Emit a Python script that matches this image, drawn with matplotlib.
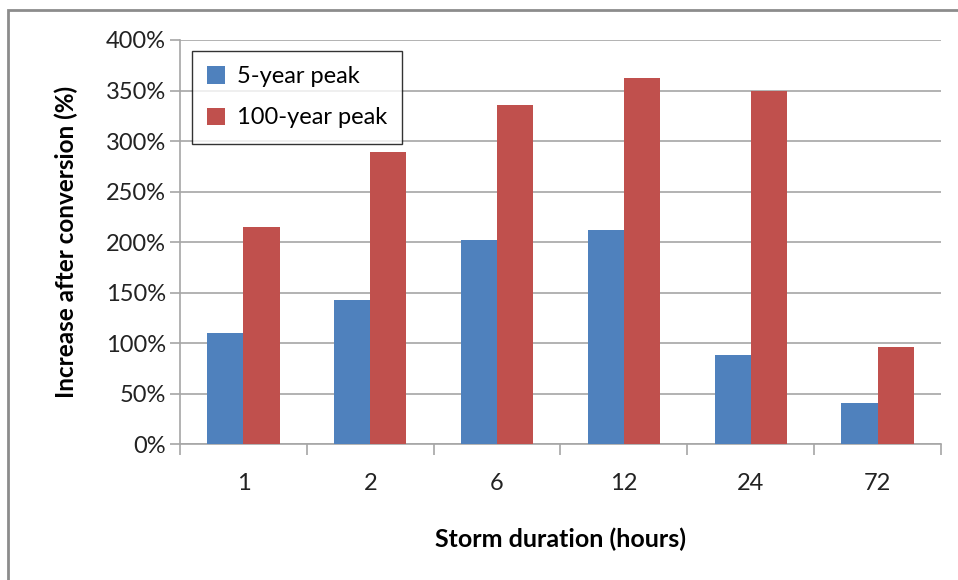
import numpy as np
import matplotlib
matplotlib.use("Agg")
import matplotlib.pyplot as plt
from matplotlib.patches import Rectangle
from matplotlib.ticker import FuncFormatter, MultipleLocator

plt.rcParams["font.family"] = ["Lato", "DejaVu Sans"]

durations  = ["1", "2", "6", "12", "24", "72"]
peak_5yr   = [110, 142.5, 202, 212, 88, 41]
peak_100yr = [214.5, 289.5, 335.5, 362, 350, 96.5]

BLUE = "#4F81BD"
RED  = "#C0504D"
GRID = "#A6A6A6"

fig = plt.figure(figsize=(9.58, 5.8), dpi=100)
ax = fig.add_axes([180 / 958, 1 - 444.3 / 580, 761 / 958, 404.3 / 580])

x = np.arange(len(durations))
w = 1 / 3.5
ax.bar(x - w / 2, peak_5yr, w, color=BLUE, label="5-year peak", zorder=3)
ax.bar(x + w / 2, peak_100yr, w, color=RED, label="100-year peak", zorder=3)

ax.set_xlim(-0.5, len(durations) - 0.5)
ax.set_ylim(0, 400)
ax.yaxis.set_major_locator(MultipleLocator(50))
ax.yaxis.set_major_formatter(FuncFormatter(lambda v, _: f"{v:.0f}%"))
ax.grid(axis="y", color=GRID, linewidth=1.2, zorder=0)

ax.set_xticks(x)
ax.set_xticklabels(durations)
ax.set_xticks(np.arange(-0.5, len(durations)), minor=True)
ax.tick_params(axis="x", which="major", length=0, pad=21, labelsize=17, colors="#222222")
ax.tick_params(axis="x", which="minor", length=8, width=1.2, color=GRID, direction="out")
ax.tick_params(axis="y", length=7, width=1.2, color=GRID, labelsize=17, pad=3, labelcolor="#222222")

for side in ["top", "right"]:
    ax.spines[side].set_visible(False)
for side in ["left", "bottom"]:
    ax.spines[side].set_color(GRID)
    ax.spines[side].set_linewidth(1.2)

ax.set_xlabel("Storm duration (hours)", fontsize=18, fontweight="bold", labelpad=24)
ax.set_ylabel("Increase after conversion (%)", fontsize=17.5, fontweight="bold", labelpad=20)

leg = ax.legend(loc="upper left", bbox_to_anchor=(12 / 761, 1 - 11 / 404.3),
                fontsize=17, frameon=True, fancybox=False, edgecolor="black",
                handlelength=0.75, handleheight=0.75, handletextpad=0.5,
                labelspacing=0.85, borderpad=0.65, borderaxespad=0)
leg.get_frame().set_linewidth(1.0)

# outer chart frame (partly cropped in the original)
fig.patches.append(Rectangle((8 / 958, -0.1), 1.2, 1.1 - 10 / 580,
                             transform=fig.transFigure, fill=False,
                             edgecolor="#8C8C8C", linewidth=2))

fig.savefig("out.png", dpi=100)
